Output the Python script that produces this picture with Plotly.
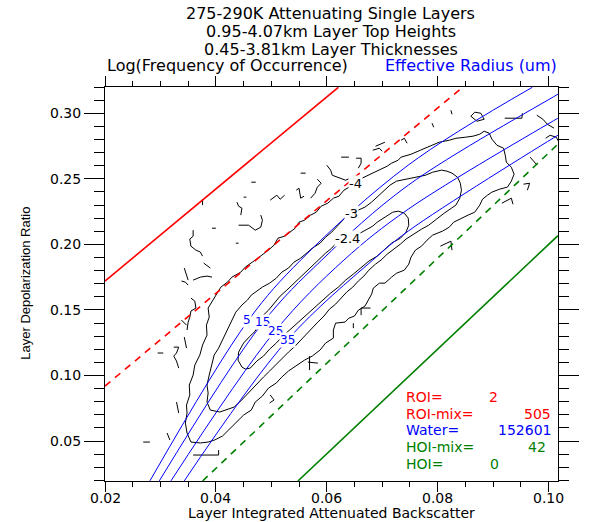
import plotly.graph_objects as go

# ---------------- data (contour / curve coordinates in units of 1e-3) ----------------
# Log(frequency of occurrence) contour  -4
c4_x = [35.5,34.8,34.5,34.8,34.7,35.3,35.2,35.9,36.2,37.1,37.6,38.4,38.3,38.8,38.6,39.5,40.2,40.9,42.1,42.9,
        44.5,45.3,47.1,48.4,49.5,50.5,51.2,52.4,53.3,54.3,55.0,56.0,57.1,58.1,59.0,60.2,61.2,62.2,63.1,64.3,
        65.2,66.0,67.1,68.4,69.5,70.9,71.7,72.9,73.4,75.2,76.9,78.6,80.3,82.1,83.3,85.0,86.4,87.6,88.4,89.3,
        89.8,90.7,91.9,92.2,92.4,93.3,93.8,93.3,92.6,91.2,89.8,89.0,88.1,87.6,86.7,85.5,84.3,82.9,82.1,80.9,
        79.1,78.1,77.1,76.0,75.2,74.8,74.0,72.6,71.7,70.5,69.5,68.4,68.1,67.4,66.9,65.7,65.0,64.0,63.3,61.6,
        61.2,61.2,59.8,58.8,57.4,56.0,54.5,53.1,51.9,50.9,49.5,48.4,47.1,46.4,45.0,44.1,43.3,42.4,41.2,39.8,
        38.6,37.2,35.5]
c4_y = [49.2,56.1,63.7,71.3,77.4,85.1,92.7,100.3,107.9,115.5,123.2,130.8,138.4,144.5,151.4,157.5,162.8,167.4,171.2,175.0,
        178.8,182.6,188.0,191.8,195.6,199.4,204.7,206.2,209.3,212.3,216.9,218.4,222.3,224.5,229.1,231.4,235.2,236.7,241.3,244.4,
        246.6,249.7,252.0,254.3,256.6,259.6,261.9,264.2,266.5,268.7,271.8,274.8,277.9,279.4,280.9,281.7,282.5,284.0,286.3,284.8,
        280.2,275.6,273.3,268.0,262.7,258.8,253.5,248.2,243.6,242.1,239.8,237.5,234.4,229.9,224.5,222.3,220.0,216.9,213.1,210.1,
        207.0,203.2,198.6,195.6,190.2,184.9,180.3,178.0,175.0,170.4,170.4,166.6,162.0,156.7,152.9,149.8,145.3,143.7,140.7,139.9,
        134.6,128.5,124.7,119.4,114.8,111.7,107.2,103.4,98.8,94.2,90.4,84.3,79.7,73.6,69.8,66.0,62.2,58.4,53.8,50.8,
        49.2,48.5,49.2]

# contour -3
c3_x = [39.0,38.4,38.6,38.4,38.8,39.3,39.7,40.5,41.2,42.1,42.9,43.6,44.7,45.7,46.4,47.6,48.4,49.7,50.9,51.9,
        53.1,54.1,55.3,56.6,57.4,58.8,59.8,60.9,61.9,62.6,63.4,64.5,65.7,66.9,68.1,69.1,70.2,71.4,72.6,74.3,
        76.0,77.8,79.1,80.7,81.7,82.6,83.6,84.1,84.3,84.0,83.3,82.2,81.2,79.8,78.4,77.1,75.7,74.3,73.3,72.1,
        70.9,69.8,68.8,67.6,66.7,65.7,64.7,63.6,62.6,61.6,60.5,59.5,58.4,57.4,56.4,55.3,54.3,53.1,51.9,50.9,
        49.7,48.6,47.6,46.4,45.3,44.3,43.3,41.9,40.7,39.0]
c3_y = [73.6,79.7,86.6,92.7,100.3,107.9,115.6,120.9,127.0,134.6,142.2,148.3,153.7,157.5,161.3,165.1,167.4,170.4,174.2,178.8,
        181.9,186.4,189.5,194.1,197.1,200.9,205.5,209.3,213.9,216.9,220.7,223.8,226.1,228.4,232.2,236.0,239.8,245.1,248.2,249.7,
        251.2,252.7,255.0,256.6,255.8,254.3,251.2,246.6,241.3,235.2,229.9,226.8,223.8,219.2,214.6,211.6,207.8,204.0,200.2,196.3,
        192.5,188.0,184.9,180.3,175.8,172.0,167.4,163.6,159.0,154.4,150.6,145.3,140.7,136.1,131.6,127.0,122.4,117.8,112.5,108.7,
        103.4,98.8,94.2,88.9,84.3,79.7,75.9,73.6,72.1,73.6]

# contour -2.4
c24_x = [44.7,44.0,44.1,45.0,46.0,47.1,47.8,48.4,49.5,50.5,51.6,52.8,54.1,55.3,56.7,57.8,58.8,59.8,60.9,61.7,
         62.6,63.8,65.0,66.0,67.1,68.3,69.1,70.2,70.9,71.9,72.9,74.0,74.7,74.8,74.3,73.3,71.7,70.3,69.1,67.6,
         66.2,64.8,63.4,62.1,60.7,59.3,58.1,56.9,55.5,54.3,53.1,51.9,50.9,49.7,48.6,47.4,46.2,45.3,44.7]
c24_y = [106.4,111.7,117.8,124.7,129.3,133.8,140.7,145.3,149.8,155.2,160.5,165.1,170.4,175.0,180.3,184.9,189.5,193.3,197.1,200.9,
         203.2,204.7,206.2,208.5,210.8,213.9,216.9,220.0,222.3,224.5,225.3,223.8,220.0,214.6,209.3,204.7,200.9,195.6,191.0,187.2,
         181.9,177.3,172.7,167.4,162.8,157.5,152.9,148.3,143.0,138.4,133.8,129.3,124.7,120.1,114.8,111.0,105.6,104.9,106.4]

# small isolated pieces of the outer (-4) contour
frag_x = [[46.4,47.2],[45.0,45.5],[43.8,44.1,44.7,44.5],[37.6,37.6],[39.3,40.0],
          [44.1,45.9,47.1,48.1,48.4,48.1],[35.9,35.9,35.3,35.5,36.4,37.2,37.6],[43.6,44.1],[37.8,39.0],
          [34.3,34.7,35.0],[33.8,34.5,35.0],[35.9,37.2,38.4,39.3],[35.5,36.2,36.4,35.5,35.3,35.0,34.8],
          [55.3,56.2],[62.6,64.0],[49.8,51.0,51.6,52.4],[54.5,55.0,55.3,55.9],[57.1,57.9,58.3,59.0,58.3],
          [60.0,60.7,61.0,62.1,63.4,64.3],[65.3,66.2,66.2,65.7],[68.3,69.5,70.0],[68.8,70.5],[73.4,74.0,74.5],
          [79.0,79.3],[82.4,82.6],[86.0,86.7,87.8,88.4,87.1,86.0],[92.1,95.2,95.3],[97.9,99.0,99.8,101.0],
          [99.5,100.3,101.4,101.9],[96.7,97.8],[95.5,96.6,96.2],[91.6,93.3,93.6],[80.5,82.4,82.6],
          [29.5,30.5],[32.4,33.3,32.9,32.4,32.9,33.3],[34.3,34.7],[32.9,33.3],[26.9,28.1],[31.2,31.7],
          [35.9,40.5,40.5],[33.8,34.7],[66.2,66.2,67.9],[64.8,64.8],[56.6,58.4],[56.9,56.9],[49.8,50.5,49.7]]
frag_y = [[247.4,247.4],[236.0,236.0],[232.2,229.1,227.6,222.3],[234.4,229.9],[212.3,212.3],
          [214.6,214.6,210.8,213.1,218.4,222.3],[210.8,206.2,204.0,198.6,195.6,194.1,191.0],[200.9,200.9],[185.7,181.9],
          [181.9,177.3,172.7],[172.0,171.2,168.9],[172.7,175.0,175.8,175.0],[159.0,156.7,151.4,149.1,144.5,140.7,134.6],
          [254.3,254.3],[266.5,266.5],[233.7,237.5,234.4,237.5],[241.3,242.8,235.2,236.7],[235.2,239.0,243.6,246.6,249.7],
          [260.4,256.6,252.7,251.2,248.9,250.5],[265.7,265.7,261.9,258.1],[271.8,273.3,271.0],[274.8,277.9],[279.4,280.9,277.1],
          [292.4,289.3],[302.3,299.2],[297.7,300.8,300.0,295.4,293.9,297.7],[296.2,296.2,300.0],[298.5,295.4,291.6,288.6],
          [280.9,283.2,281.7,277.9],[266.5,261.1],[245.9,246.6,241.3],[231.4,235.2,230.6],[198.6,202.4,195.6],
          [117.1,117.1],[121.6,121.6,117.1,114.8,111.0,105.6],[129.3,120.9],[79.7,71.3],[49.2,49.2],[56.1,50.8],
          [39.3,39.3,43.1],[142.2,138.4],[146.0,151.4,151.4],[139.9,136.1],[110.2,109.4],[114.8,104.1],[85.1,81.3,79.0]]

contour_levels = ["-4", "-3", "-2.4"]

# effective-radius curves (um)
reff_labels = ["5", "15", "25", "35"]
reff_x = [[28.1, 45.9, 55.3, 74.7, 97.1],
          [29.8, 48.4, 59.1, 74.7, 101.7, 103.0],
          [31.9, 50.7, 63.1, 74.7, 101.7, 103.0],
          [34.3, 52.9, 68.3, 74.7, 101.7, 103.0]]
reff_y = [[19.6, 142.3, 188.0, 260.4, 319.8],
          [19.6, 139.9, 188.0, 245.1, 314.5, 317.8],
          [19.6, 133.9, 188.0, 226.8, 296.2, 299.3],
          [19.6, 127.0, 188.0, 210.1, 283.2, 286.3]]

# phase boundary lines
roi_x, roi_y = [0.0200, 0.0621], [0.1720, 0.3198]
roimix_x, roimix_y = [0.0200, 0.0845], [0.0919, 0.3198]
hoimix_x, hoimix_y = [0.0376, 0.1017], [0.0195, 0.2764]
hoi_x, hoi_y = [0.0548, 0.1017], [0.0195, 0.2066]

# class counts
count_names = ["ROI=", "ROI-mix=", "Water=", "HOI-mix=", "HOI="]
count_values = [2, 505, 152601, 42, 0]

# x tick values (labels drawn as text under the axis)
x_tick_vals = [0.02, 0.04, 0.06, 0.08, 0.10]

title_lines = ["275-290K Attenuating Single Layers",
               "0.95-4.07km Layer Top Heights",
               "0.45-3.81km Layer Thicknesses"]

S = 1e-3
RED, BLUE, GREEN = "#FF0000", "#0000FF", "#007F00"
FONT = "DejaVu Sans"

fig = go.Figure()

# contours
for cx, cy in [(c4_x, c4_y), (c3_x, c3_y), (c24_x, c24_y)]:
    fig.add_trace(go.Scatter(x=[v * S for v in cx], y=[v * S for v in cy], mode="lines",
                             line=dict(color="black", width=1), hoverinfo="skip"))
fx, fy = [], []
for a, b in zip(frag_x, frag_y):
    fx += [v * S for v in a] + [None]
    fy += [v * S for v in b] + [None]
fig.add_trace(go.Scatter(x=fx, y=fy, mode="lines", line=dict(color="black", width=1),
                         connectgaps=False, hoverinfo="skip"))

# effective radius curves
for cx, cy in zip(reff_x, reff_y):
    fig.add_trace(go.Scatter(x=[v * S for v in cx], y=[v * S for v in cy], mode="lines",
                             line=dict(color=BLUE, width=1, shape="spline", smoothing=1.0),
                             hoverinfo="skip"))

# boundary lines
fig.add_trace(go.Scatter(x=roi_x, y=roi_y, mode="lines", line=dict(color=RED, width=1.6)))
fig.add_trace(go.Scatter(x=roimix_x, y=roimix_y, mode="lines",
                         line=dict(color=RED, width=1.6, dash="7px,6px")))
fig.add_trace(go.Scatter(x=hoimix_x, y=hoimix_y, mode="lines",
                         line=dict(color=GREEN, width=1.6, dash="7px,6px")))
fig.add_trace(go.Scatter(x=hoi_x, y=hoi_y, mode="lines", line=dict(color=GREEN, width=1.6)))

ann = []
# contour labels
for txt, (lx, ly) in zip(contour_levels, [(0.0652, 0.2466), (0.0645, 0.2238), (0.0638, 0.2047)]):
    ann.append(dict(x=lx, y=ly, xref="x", yref="y", text=txt, showarrow=False,
                    font=dict(family=FONT, size=13, color="black"), bgcolor="white", borderpad=0))
# effective radius labels
for txt, (lx, ly) in zip(reff_labels, [(0.0457, 0.1424), (0.0485, 0.1405), (0.0508, 0.1337), (0.0530, 0.1268)]):
    ann.append(dict(x=lx, y=ly, xref="x", yref="y", text=txt, showarrow=False,
                    font=dict(family=FONT, size=12, color=BLUE), bgcolor="white", borderpad=0))

# x tick labels
for v in x_tick_vals:
    ann.append(dict(x=v, y=-0.0203, xref="x", yref="paper", text=f"{v:.2f}", showarrow=False,
                    xanchor="center", yanchor="top", borderpad=0,
                    font=dict(family=FONT, size=14, color="black")))

# titles
for txt, py in zip(title_lines, [1.1853, 1.1421, 1.0964]):
    ann.append(dict(x=0.498, y=py, xref="paper", yref="paper", text=txt, showarrow=False,
                    xanchor="center", yanchor="middle", font=dict(family=FONT, size=16, color="black")))
ann.append(dict(x=0.0, y=1.0533, xref="paper", yref="paper", text="Log(Frequency of Occurrence)",
                showarrow=False, xanchor="left", yanchor="middle",
                font=dict(family=FONT, size=16, color="black")))
ann.append(dict(x=1.002, y=1.0533, xref="paper", yref="paper", text="Effective Radius (um)",
                showarrow=False, xanchor="right", yanchor="middle",
                font=dict(family=FONT, size=16, color=BLUE)))

# axis titles
ann.append(dict(x=0.5, y=-0.1038, xref="paper", yref="paper", text="Layer Integrated Attenuated Backscatter",
                showarrow=False, xanchor="center", yanchor="bottom", borderpad=0,
                font=dict(family=FONT, size=14, color="black")))
ann.append(dict(x=-0.1772, y=0.5025, xref="paper", yref="paper", text="Layer Depolarization Ratio",
                showarrow=False, xanchor="center", yanchor="middle", textangle=-90,
                font=dict(family="Liberation Sans", size=13, color="black")))

# counts legend
count_colors = [RED, RED, BLUE, GREEN, GREEN]
count_ys = [0.2132, 0.1710, 0.1288, 0.0866, 0.0444]
count_right = [0.8692, 0.9873, 0.9873, 0.9747, 0.8713]
for name, val, col, yy, xr in zip(count_names, count_values, count_colors, count_ys, count_right):
    ann.append(dict(x=0.6624, y=yy, xref="paper", yref="paper", text=name, showarrow=False,
                    xanchor="left", yanchor="middle", borderpad=0,
                    font=dict(family=FONT, size=14, color=col)))
    ann.append(dict(x=xr, y=yy, xref="paper", yref="paper", text=str(val), showarrow=False,
                    xanchor="right", yanchor="middle", borderpad=0,
                    font=dict(family=FONT, size=14, color=col)))

fig.update_layout(
    width=591, height=522, autosize=False,
    margin=dict(l=105, r=12, t=87, b=41),
    paper_bgcolor="white", plot_bgcolor="white",
    showlegend=False,
    annotations=ann,
    xaxis=dict(range=[0.02, 0.10172], tick0=0.02, dtick=0.02, showticklabels=False,
               showgrid=False, zeroline=False, showline=True, linecolor="black", linewidth=1,
               mirror="ticks", ticks="outside", ticklen=10, tickcolor="black", tickwidth=1,
               minor=dict(dtick=0.005, tick0=0.02, ticks="outside", ticklen=5, tickcolor="black",
                          showgrid=False)),
    yaxis=dict(range=[0.0195, 0.32], tick0=0.0, dtick=0.05, tickformat=".2f",
               showgrid=False, zeroline=False, showline=True, linecolor="black", linewidth=1,
               mirror="ticks", ticks="outside", ticklen=20, tickcolor="black", tickwidth=1,
               tickfont=dict(family=FONT, size=14, color="black"),
               minor=dict(dtick=0.01, tick0=0.0, ticks="outside", ticklen=10, tickcolor="black",
                          showgrid=False)),
)

fig.write_html("out.html")
